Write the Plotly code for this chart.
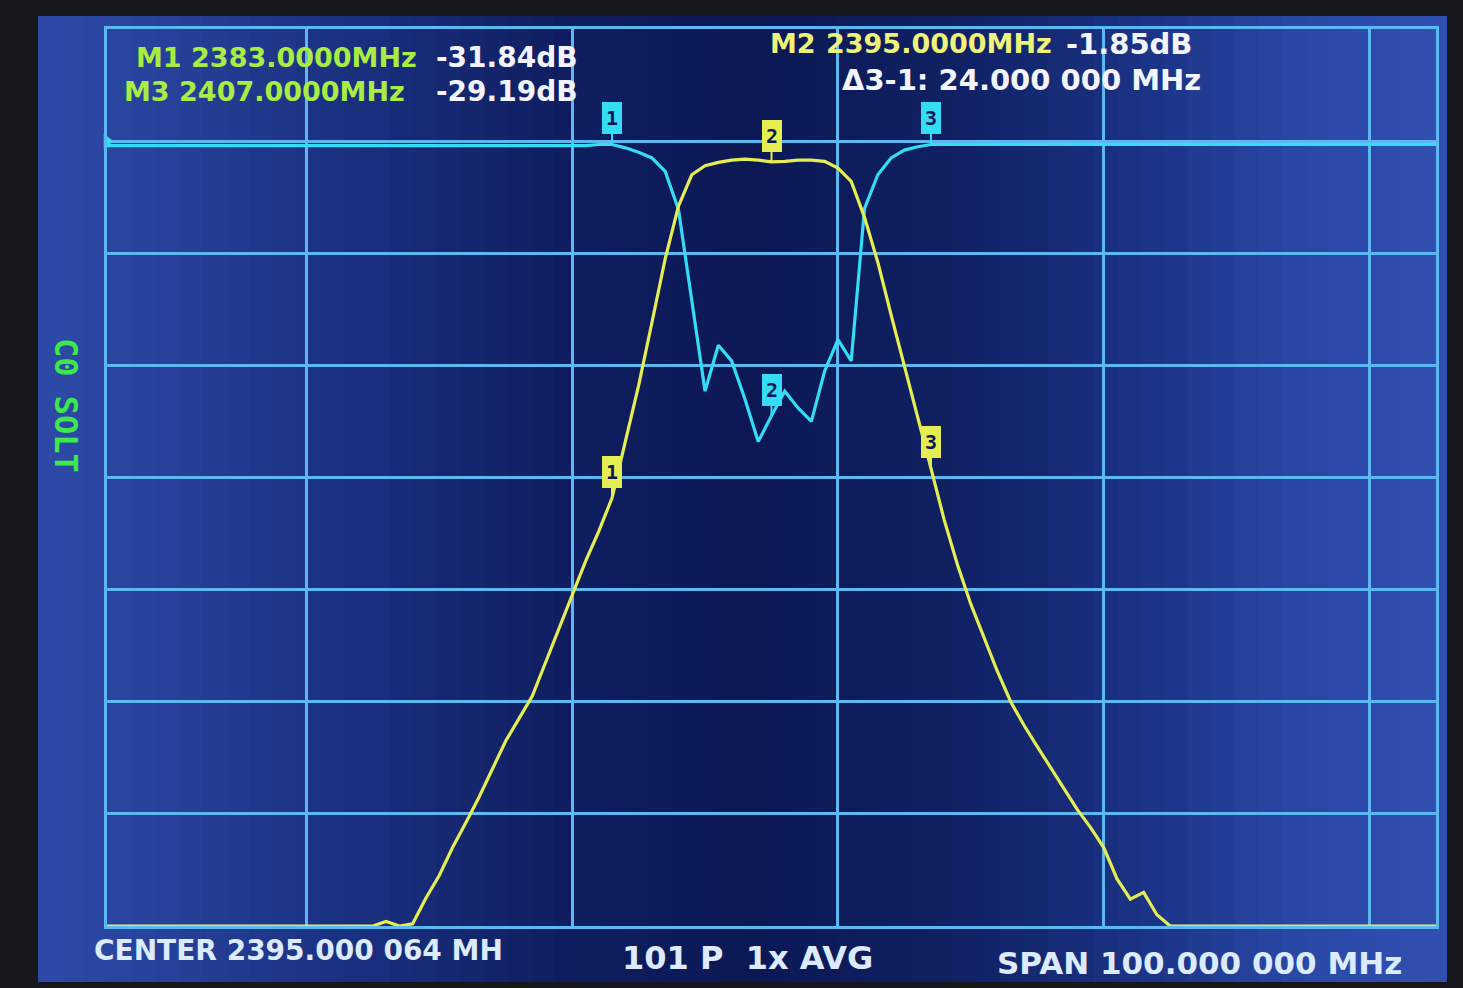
import plotly.graph_objects as go

# ---------------- instrument settings ----------------
center_mhz = 2395.000064
span_mhz = 100.0
n_points = 101
start_mhz = center_mhz - span_mhz / 2
step_mhz = span_mhz / (n_points - 1)
freqs = [start_mhz + i * step_mhz for i in range(n_points)]

# CH0 S11 LOGMAG (cyan)
s11_db = [
    -0.4, -0.4, -0.4, -0.4, -0.4, -0.4, -0.4, -0.4, -0.4, -0.4,   # 2345-2354
    -0.4, -0.4, -0.4, -0.4, -0.4, -0.4, -0.4, -0.4, -0.4, -0.4,   # 2355-2364
    -0.4, -0.4, -0.4, -0.4, -0.4, -0.4, -0.4, -0.4, -0.4, -0.4,   # 2365-2374
    -0.4, -0.4, -0.4, -0.4, -0.4, -0.4, -0.4, -0.3, -0.3, -0.6,   # 2375-2384
    -1.0, -1.5, -2.7, -6.1, -14.0, -22.3, -18.2, -19.6, -23.0, -26.8,  # 2385-2394
    -24.5, -22.3, -23.8, -25.0, -20.5, -17.7, -19.6, -6.0, -3.0, -1.5,  # 2395-2404
    -0.8, -0.5, -0.3, -0.3, -0.3, -0.3, -0.3, -0.3, -0.3, -0.3,   # 2405-2414
    -0.3, -0.3, -0.3, -0.3, -0.3, -0.3, -0.3, -0.3, -0.3, -0.3,   # 2415-2424
    -0.3, -0.3, -0.3, -0.3, -0.3, -0.3, -0.3, -0.3, -0.3, -0.3,   # 2425-2434
    -0.3, -0.3, -0.3, -0.3, -0.3, -0.3, -0.3, -0.3, -0.3, -0.3,   # 2435-2444
    -0.3,                                                          # 2445
]
# CH1 S21 LOGMAG (yellow), clamped at the bottom of the screen (-70 dB)
s21_db = [
    -70, -70, -70, -70, -70, -70, -70, -70, -70, -70,             # 2345-2354
    -70, -70, -70, -70, -70, -70, -70, -70, -70, -70,             # 2355-2364
    -70, -69.6, -70, -69.8, -67.5, -65.5, -63.0, -60.8, -58.5, -56.0,  # 2365-2374
    -53.5, -51.5, -49.5, -46.5, -43.5, -40.5, -37.5, -34.8, -31.84, -26.8,  # 2375-2384
    -21.8, -16.2, -10.5, -5.8, -3.0, -2.2, -1.9, -1.7, -1.6, -1.7,  # 2385-2394
    -1.85, -1.8, -1.7, -1.7, -1.8, -2.4, -3.6, -6.8, -10.8, -15.5,  # 2395-2404
    -20.0, -24.6, -29.19, -33.8, -37.8, -41.3, -44.4, -47.3, -50.0, -52.1,  # 2405-2414
    -54.0, -55.9, -57.8, -59.6, -61.2, -63.0, -65.8, -67.6, -67.0, -69.0,  # 2415-2424
    -70, -70, -70, -70, -70, -70, -70, -70, -70, -70,             # 2425-2434
    -70, -70, -70, -70, -70, -70, -70, -70, -70, -70,             # 2435-2444
    -70,                                                           # 2445
]

# ---------------- markers ----------------
marker_ids = ["1", "2", "3"]
marker_freqs = [2383.0, 2395.0, 2407.0]
marker_s21_db = [-31.84, -1.85, -29.19]

# ---------------- screen texts ----------------
m1_label, m1_value = "M1 2383.0000MHz", "-31.84dB"
m3_label, m3_value = "M3 2407.0000MHz", "-29.19dB"
m2_label, m2_freq, m2_value = "M2", "2395.0000MHz", "-1.85dB"
delta_text = "\u03943-1: 24.000 000 MHz"
center_text = "CENTER 2395.000 064 MH"
points_text = "101 P  1x AVG"
span_text = "SPAN 100.000 000 MHz"
cal_text = "C0 SOLT"

y_top_db, y_bottom_db, db_per_div = 10, -70, 10
x_grid = [2360, 2380, 2400, 2420, 2440]

# ---------------- style ----------------
W, H = 1463, 988
L, R, T, B = 107, 27, 29, 62
CYAN = "#34dcf4"
YELLOW = "#e4ee52"
GRID = "#5cb8f0"
LABEL_GREEN = "#a8ec44"
LABEL_YELLOW = "#eef27a"
WHITE = "#f2f4ff"
BOTTOM_TXT = "#dcebff"
FONT = "DejaVu Sans"


def px(x):
    return (x - L) / (W - L - R)


def py(y):
    return (H - B - y) / (H - T - B)


fig = go.Figure()

# screen background (photo lighting: brighter at the sides, darker in the middle)
stops = [(38, (44, 74, 168)), (150, (40, 67, 156)), (350, (26, 48, 128)),
         (550, (16, 31, 98)), (750, (12, 24, 84)), (950, (16, 32, 98)),
         (1150, (28, 52, 134)), (1300, (42, 72, 166)), (1446, (48, 80, 176))]


def col_at(x):
    for (xa, ca), (xb, cb) in zip(stops[:-1], stops[1:]):
        if xa <= x <= xb:
            t = (x - xa) / (xb - xa)
            c = [round(ca[k] + (cb[k] - ca[k]) * t) for k in range(3)]
            return "rgb(%d,%d,%d)" % tuple(c)
    return "rgb(%d,%d,%d)" % stops[-1][1]


shapes = []
n_strips = 60
x0s, x1s = 38, 1446
for i in range(n_strips):
    xa = x0s + (x1s - x0s) * i / n_strips
    xb = x0s + (x1s - x0s) * (i + 1) / n_strips
    shapes.append(dict(type="rect", xref="paper", yref="paper",
                       x0=px(xa), x1=px(xb + 1), y0=py(982), y1=py(16),
                       fillcolor=col_at((xa + xb) / 2), line=dict(width=0),
                       layer="below"))

# traces
fig.add_trace(go.Scatter(x=freqs, y=s11_db, mode="lines", name="S11",
                         line=dict(color=CYAN, width=3.2), hoverinfo="skip"))
fig.add_trace(go.Scatter(x=freqs, y=s21_db, mode="lines", name="S21",
                         line=dict(color=YELLOW, width=3.2), hoverinfo="skip"))
# reference-level arrow at the left edge
fig.add_trace(go.Scatter(x=[start_mhz], y=[0], mode="markers", cliponaxis=False,
                         marker=dict(symbol="triangle-right", size=13, color=CYAN),
                         hoverinfo="skip"))

annotations = []


def idx_of(f):
    return round((f - start_mhz) / step_mhz)


for mid, mf in zip(marker_ids, marker_freqs):
    i = idx_of(mf)
    for series, color in ((s11_db, CYAN), (s21_db, YELLOW)):
        annotations.append(dict(
            x=freqs[i], y=series[i], xref="x", yref="y",
            text="<b>%s</b>" % mid, showarrow=True, arrowhead=0,
            arrowwidth=2, arrowcolor=color, ax=0, ay=-26, standoff=0,
            bgcolor=color, bordercolor=color, borderpad=3,
            font=dict(family="DejaVu Sans Mono", size=20, color="#0c1854")))


def txt(x, y, text, color, size=27, anchor="left", angle=0):
    annotations.append(dict(x=px(x), y=py(y), xref="paper", yref="paper",
                            text="<b>%s</b>" % text, showarrow=False,
                            xanchor=anchor, yanchor="middle", textangle=angle,
                            font=dict(family=FONT, size=size, color=color)))


txt(134, 57, m1_label, LABEL_GREEN)
txt(434, 57, m1_value, WHITE, size=28)
txt(122, 91, m3_label, LABEL_GREEN)
txt(434, 91, m3_value, WHITE, size=28)
txt(768, 44, m2_label, LABEL_YELLOW)
txt(824, 44, m2_freq, LABEL_YELLOW)
txt(1064, 44, m2_value, WHITE, size=29)
txt(840, 80, delta_text, WHITE, size=29)
txt(92, 950, center_text, BOTTOM_TXT, size=28)
txt(620, 958, points_text, BOTTOM_TXT, size=32)
txt(995, 963, span_text, BOTTOM_TXT, size=31)
annotations.append(dict(x=px(66), y=py(405), xref="paper", yref="paper",
                        text="<b>%s</b>" % cal_text, showarrow=False,
                        xanchor="center", yanchor="middle", textangle=90,
                        font=dict(family="DejaVu Sans Mono", size=32,
                                  color="#3ee84a")))

fig.update_layout(
    width=W, height=H,
    margin=dict(l=L, r=R, t=T, b=B),
    paper_bgcolor="#15171d",
    plot_bgcolor="rgba(0,0,0,0)",
    showlegend=False,
    shapes=shapes,
    annotations=annotations,
    xaxis=dict(range=[start_mhz, start_mhz + span_mhz], tickvals=x_grid,
               showticklabels=False, ticks="", showgrid=True,
               gridcolor=GRID, gridwidth=2.5, zeroline=False,
               showline=True, linecolor=GRID, linewidth=2.5, mirror=True,
               fixedrange=True),
    yaxis=dict(range=[y_bottom_db, y_top_db], dtick=db_per_div,
               showticklabels=False, ticks="", showgrid=True,
               gridcolor=GRID, gridwidth=2.5, zeroline=False,
               showline=True, linecolor=GRID, linewidth=2.5, mirror=True,
               fixedrange=True),
)

fig.write_html("out.html",
               config={"displayModeBar": False},
               post_script="document.body.style.margin='0';")
